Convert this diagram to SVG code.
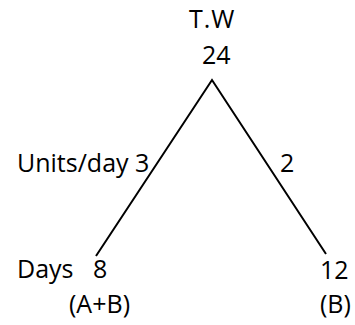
<svg xmlns="http://www.w3.org/2000/svg" width="355" height="325" viewBox="0 0 355 325">
<style>
text{font-family:"Open Sans","Liberation Sans",sans-serif;font-size:25px;fill:#000}
.ln{stroke:#000;stroke-width:2;fill:none}
</style>
<rect width="355" height="325" fill="#fff"/>
<g id="connectors">
<polyline class="ln" points="96,256 212,80 326,254"/>
</g>
<g id="top"><text x="189" y="28" letter-spacing="1">T.W</text><text x="202" y="64">24</text></g>
<g id="left-label"><text x="17" y="172">Units/day 3</text></g>
<g id="right-label"><text x="280" y="172">2</text></g>
<g id="left"><text x="17" y="278">Days</text><text x="93" y="278">8</text><text x="69" y="313">(A+B)</text></g>
<g id="right"><text x="320" y="279">12</text><text x="320" y="313">(B)</text></g>
</svg>
